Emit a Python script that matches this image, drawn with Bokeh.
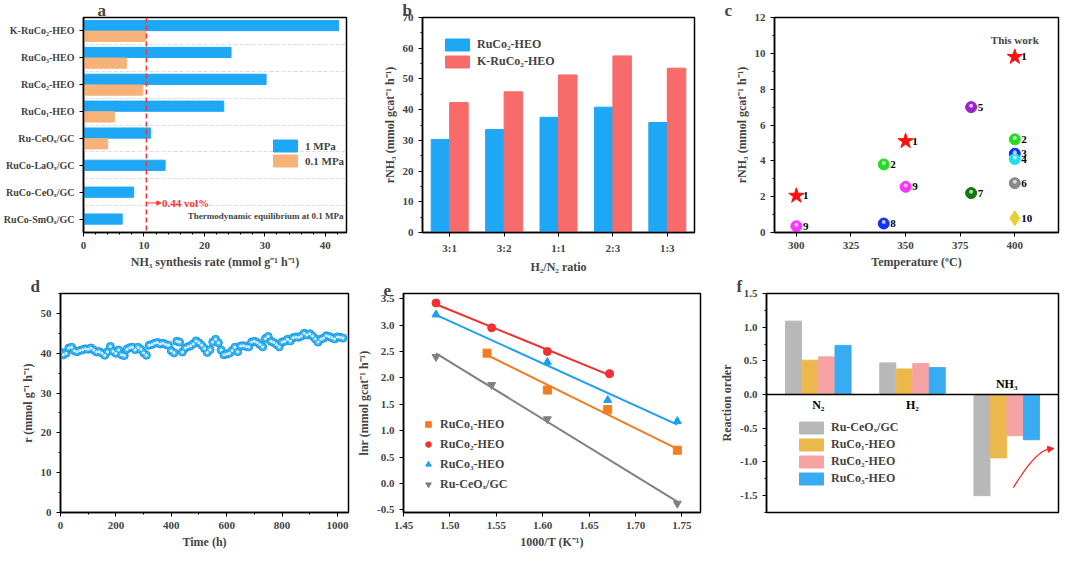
import numpy as np
from bokeh.plotting import figure
from bokeh.layouts import column, row
from bokeh.models import Label, Span, Range1d, FixedTicker, Legend, LegendItem, ColumnDataSource, Arrow, NormalHead
from bokeh.transform import dodge
from bokeh.embed import file_html
from bokeh.resources import INLINE

FONT = "Liberation Serif"

# ---- data a
a_cats = ["RuCo-SmOₓ/GC", "RuCo-CeOₓ/GC", "RuCo-LaOₓ/GC", "Ru-CeOₓ/GC", "RuCo₁-HEO", "RuCo₂-HEO", "RuCo₃-HEO", "K-RuCo₂-HEO"]
a_1mpa = [6.4, 8.3, 13.5, 11.1, 23.2, 30.2, 24.4, 42.2]
a_01mpa = [None, None, None, 4.0, 5.1, 9.8, 7.1, 10.3]
a_equil = 10.4
# ---- data b
b_cats = ["3:1", "3:2", "1:1", "2:3", "1:3"]
b_ruco2 = [30.3, 33.5, 37.5, 40.8, 35.8]
b_kruco2 = [42.3, 45.8, 51.3, 57.5, 53.5]
# ---- data c
c_star_t = [300, 350, 400]
c_star_r = [2.05, 5.1, 9.8]
c_pt_t = [300, 340, 340, 350, 380, 380, 400, 400, 400, 400]
c_pt_r = [0.35, 3.8, 0.5, 2.55, 7.0, 2.2, 5.2, 4.4, 4.1, 2.75]
c_pt_lab = ["9", "2", "8", "9", "5", "7", "2", "3", "4", "6"]
c_pt_col = ["#ff33ff", "#22dd22", "#1133ee", "#ff33ff", "#9922cc", "#117711", "#22dd22", "#1133ee", "#22ddee", "#888888"]
c_dia_t = [400]
c_dia_r = [0.8]
# ---- data d
d_rate = [40.3, 39.6, 40.0, 41.3, 41.5, 40.6, 40.4, 40.7, 40.9, 41.1,
          41.0, 41.3, 40.8, 40.3, 40.4, 40.0, 39.5, 40.4, 41.7, 40.5,
          40.0, 40.8, 39.6, 39.4, 41.0, 41.4, 41.5, 40.9, 41.5, 41.0,
          40.1, 39.5, 42.0, 42.2, 42.5, 42.7, 42.3, 42.5, 42.2, 42.0,
          40.6, 40.1, 43.0, 42.8, 40.3, 41.3, 41.6, 41.9, 42.4, 43.1,
          42.6, 42.0, 41.2, 40.2, 40.9, 42.8, 43.5, 42.6, 40.8, 39.6,
          39.8, 40.0, 40.7, 41.5, 40.4, 41.8, 41.9, 41.7, 41.6, 42.8,
          43.0, 42.7, 42.2, 41.6, 43.7, 44.2, 43.0, 42.7, 42.2, 41.6,
          42.8, 43.0, 43.5, 43.1, 43.9, 44.1, 44.0, 44.3, 45.0, 44.6,
          44.9, 44.3, 43.6, 42.8, 43.5, 43.8, 44.4, 44.2, 43.9, 43.6,
          44.1, 44.0, 43.8]
d_time = list(range(0, 10 * len(d_rate), 10))
# ---- data e
e_series = ["RuCo₁-HEO", "RuCo₂-HEO", "RuCo₃-HEO", "Ru-CeOₓ/GC"]
e_x1 = [1.54, 1.605, 1.67, 1.745]
e_y1 = [2.47, 1.77, 1.40, 0.63]
e_x2 = [1.485, 1.545, 1.605, 1.672]
e_y2 = [3.42, 2.95, 2.50, 2.08]
e_x3 = [1.485, 1.605, 1.67, 1.745]
e_y3 = [3.20, 2.30, 1.58, 1.18]
e_x4 = [1.485, 1.545, 1.605, 1.745]
e_y4 = [2.40, 1.87, 1.22, -0.38]
# ---- data f
f_groups = ["N₂", "H₂", "NH₃"]
f_series = ["Ru-CeOₓ/GC", "RuCo₁-HEO", "RuCo₂-HEO", "RuCo₃-HEO"]
f_vals = [[1.09, 0.47, -1.50], [0.51, 0.38, -0.94], [0.56, 0.46, -0.61], [0.73, 0.40, -0.67]]

BLUE = "#1ea7f5"
ORANGE = "#f7b27a"


def style(p, xlabel, ylabel):
    p.background_fill_color = "white"
    p.outline_line_color = "black"
    p.outline_line_width = 1.5
    p.xgrid.visible = False
    p.ygrid.visible = False
    for ax in (p.xaxis, p.yaxis):
        ax.axis_line_width = 1.5
        ax.major_label_text_font = FONT
        ax.major_label_text_font_style = "bold"
        ax.major_label_text_font_size = "11px"
        ax.axis_label_text_font = FONT
        ax.axis_label_text_font_style = "bold"
        ax.axis_label_text_font_size = "12px"
        ax.major_tick_in = 0
        ax.major_tick_out = 4
        ax.minor_tick_out = 2
        ax.minor_tick_in = 0
        ax.axis_label_standoff = 3
    p.xaxis.axis_label = xlabel
    p.yaxis.axis_label = ylabel


def letter(p, t, off):
    p.title.text = t
    p.title.text_font = FONT
    p.title.text_font_style = "bold"
    p.title.text_font_size = "17px"
    p.title.align = "left"
    p.title.offset = off
    p.title.standoff = -4


def mk(w, h, l, r, t, b, **kw):
    return figure(width=w, height=h, min_border_left=l, min_border_right=r, min_border_top=t,
                  min_border_bottom=b, output_backend="svg", toolbar_location=None, **kw)

# ---------- a
pa = mk(354, 276, 72, 8, 0, 44, x_range=Range1d(0, 43.5), y_range=Range1d(-0.5, 7.5))
style(pa, "NH₃ synthesis rate (mmol g⁻¹ h⁻¹)", "")
idx = list(range(len(a_cats)))
yb = [i + 0.2 if a_01mpa[i] is not None else i for i in idx]
ro = pa.hbar(y=yb, right=a_1mpa, height=0.38, color=BLUE)
oi = [i for i in idx if a_01mpa[i] is not None]
rb = pa.hbar(y=[i - 0.2 for i in oi], right=[a_01mpa[i] for i in oi], height=0.38, color=ORANGE)
pa.yaxis.ticker = FixedTicker(ticks=idx)
pa.yaxis.major_label_overrides = {i: c for i, c in enumerate(a_cats)}
pa.yaxis.major_label_text_font_size = "10px"
pa.ygrid.visible = True
pa.ygrid.ticker = FixedTicker(ticks=[i + 0.5 for i in idx])
pa.ygrid.grid_line_color = "#dddddd"
pa.ygrid.grid_line_dash = "4 2"
pa.add_layout(Span(location=a_equil, dimension="height", line_color="#ff3030", line_dash="5 3", line_width=1.5))
pa.add_layout(Arrow(end=NormalHead(size=4, fill_color="#ff3030", line_color="#ff3030"), x_start=a_equil, y_start=0.6,
                    x_end=a_equil + 2.4, y_end=0.6, line_color="#ff3030", line_width=1))
pa.add_layout(Label(x=a_equil + 2.6, y=0.6, text="0.44 vol%", text_color="#ff3030", text_font=FONT,
                    text_font_style="bold", text_font_size="11px", text_baseline="middle"))
pa.add_layout(Label(x=43, y=0.1, text="Thermodynamic equilibrium at 0.1 MPa", text_align="right", text_font=FONT,
                    text_font_style="bold", text_font_size="9px", text_baseline="middle"))
lg = Legend(items=[LegendItem(label="1 MPa", renderers=[ro]), LegendItem(label="0.1 MPa", renderers=[rb])],
            location=(185, 62), border_line_alpha=0, background_fill_alpha=0, label_text_font=FONT,
            label_text_font_style="bold", label_text_font_size="11px", glyph_width=30, glyph_height=15, spacing=0, padding=2)
pa.add_layout(lg)
letter(pa, "a", 14)

# ---------- b
pb = mk(354, 276, 68, 14, 0, 44, x_range=b_cats, y_range=Range1d(0, 70))
style(pb, "H₂/N₂ ratio", "rNH₃ (mmol gcat⁻¹ h⁻¹)")
src_b = ColumnDataSource(dict(c=b_cats, a=b_ruco2, k=b_kruco2))
r1 = pb.vbar(x=dodge("c", -0.17, range=pb.x_range), top="a", width=0.34, source=src_b, color=BLUE)
r2 = pb.vbar(x=dodge("c", 0.17, range=pb.x_range), top="k", width=0.34, source=src_b, color="#f76b6b")
pb.yaxis.ticker = FixedTicker(ticks=list(range(0, 71, 10)), minor_ticks=list(range(0, 71, 5)))
lgb = Legend(items=[LegendItem(label="RuCo₂-HEO", renderers=[r1]), LegendItem(label="K-RuCo₂-HEO", renderers=[r2])],
             location="top_left", border_line_alpha=0, background_fill_alpha=0, label_text_font=FONT,
             label_text_font_style="bold", label_text_font_size="12px", glyph_width=30, glyph_height=15, spacing=2)
pb.add_layout(lgb)
letter(pb, "b", -20)

# ---------- c
pc = mk(354, 276, 66, 4, 0, 44, x_range=Range1d(290, 420), y_range=Range1d(0, 12))
style(pc, "Temperature (ºC)", "rNH₃ (mmol gcat⁻¹ h⁻¹)")
pc.xaxis.ticker = FixedTicker(ticks=[300, 325, 350, 375, 400])
pc.yaxis.ticker = FixedTicker(ticks=list(range(0, 13, 2)), minor_ticks=list(range(0, 13, 1)))
pc.scatter(c_star_t, c_star_r, marker="star", size=16, color="#ff1010")
pc.text([t + 3 for t in c_star_t], c_star_r, text=["1"] * 3, text_font={"value": FONT}, text_font_style="bold",
        text_font_size="11px", text_baseline="middle")
pc.scatter(c_pt_t, c_pt_r, size=11, fill_color=c_pt_col, line_color=c_pt_col)
pc.scatter(c_pt_t, [r + 0.08 for r in c_pt_r], size=4, fill_color="white", line_alpha=0, fill_alpha=0.7)
pc.text([t + 3 for t in c_pt_t], c_pt_r, text=c_pt_lab, text_font={"value": FONT}, text_font_style="bold",
        text_font_size="11px", text_baseline="middle")
pc.scatter(c_dia_t, c_dia_r, marker="diamond", size=15, color="#e8d030")
pc.text([t + 3 for t in c_dia_t], c_dia_r, text=["10"], text_font={"value": FONT}, text_font_style="bold",
        text_font_size="11px", text_baseline="middle")
pc.add_layout(Label(x=400, y=10.4, text="This work", text_align="center", text_font=FONT, text_font_style="bold",
                    text_font_size="11px"))
letter(pc, "c", -50)

# ---------- d
pd_ = mk(354, 276, 60, 6, 6, 40, x_range=Range1d(0, 1040), y_range=Range1d(0, 55))
style(pd_, "Time (h)", "r (mmol g⁻¹ h⁻¹)")
pd_.xaxis.ticker = FixedTicker(ticks=[0, 200, 400, 600, 800, 1000], minor_ticks=list(range(0, 1040, 100)))
pd_.yaxis.ticker = FixedTicker(ticks=[0, 10, 20, 30, 40, 50], minor_ticks=list(range(0, 56, 5)))
pd_.scatter(d_time, d_rate, size=8, fill_color="#3ab7f2", line_color="#1a98e6", line_width=1)
pd_.scatter(d_time, d_rate, size=3, fill_color="white", line_alpha=0, fill_alpha=0.8)
letter(pd_, "d", -30)

# ---------- e
pe = mk(354, 276, 41, 8, 6, 40, x_range=Range1d(1.45, 1.77), y_range=Range1d(-0.55, 3.6))
style(pe, "1000/T (K⁻¹)", "lnr (mmol gcat⁻¹ h⁻¹)")
pe.xaxis.ticker = FixedTicker(ticks=[1.45, 1.50, 1.55, 1.60, 1.65, 1.70, 1.75])
pe.xaxis.major_label_overrides = {1.45: "1.45", 1.5: "1.50", 1.55: "1.55", 1.6: "1.60", 1.65: "1.65", 1.7: "1.70", 1.75: "1.75"}
pe.yaxis.ticker = FixedTicker(ticks=[-0.5, 0, 0.5, 1, 1.5, 2, 2.5, 3, 3.5])
pe.yaxis.major_label_overrides = {-0.5: "-0.5", 0: "0.0", 0.5: "0.5", 1: "1.0", 1.5: "1.5", 2: "2.0", 2.5: "2.5", 3: "3.0", 3.5: "3.5"}
e_data = [(e_x1, e_y1, "#f47c20", "square"), (e_x2, e_y2, "#ee3030", "circle"),
          (e_x3, e_y3, "#1aa0f0", "triangle"), (e_x4, e_y4, "#808080", "inverted_triangle")]
items = []
for (xs, ys, col, mkr), name in zip(e_data, e_series):
    k, b = np.polyfit(xs, ys, 1)
    xx = [min(xs), max(xs)]
    pe.line(xx, [k * v + b for v in xx], line_color=col, line_width=2)
    r = pe.scatter(xs, ys, marker=mkr, size=8, color=col)
    items.append(LegendItem(label=name, renderers=[r]))
lge = Legend(items=items, location=(8, 8), border_line_alpha=0, background_fill_alpha=0, label_text_font=FONT,
             label_text_font_style="bold", label_text_font_size="12px", spacing=0, glyph_width=14)
pe.add_layout(lge)
letter(pe, "e", -20)

# ---------- f
pf = mk(354, 276, 58, 4, 8, 35, x_range=Range1d(-0.55, 2.55), y_range=Range1d(-1.75, 1.5))
style(pf, "", "Reaction order")
pf.xaxis.visible = False
pf.yaxis.ticker = FixedTicker(ticks=[-1.5, -1.0, -0.5, 0.0, 0.5, 1.0, 1.5], minor_ticks=list(np.arange(-1.75, 1.51, 0.25)))
pf.yaxis.major_label_overrides = {-1.5: "-1.5", -1.0: "-1.0", -0.5: "-0.5", 0.0: "0.0", 0.5: "0.5", 1.0: "1.0", 1.5: "1.5"}
f_cols = ["#b8b8b8", "#ebb84c", "#f7a3a3", "#38acf2"]
fitems = []
gx = np.arange(len(f_groups))
for j, (name, vals, col) in enumerate(zip(f_series, f_vals, f_cols)):
    r = pf.vbar(x=gx + (j - 1.5) * 0.175, top=vals, bottom=0, width=0.17, color=col)
    fitems.append(LegendItem(label=name, renderers=[r]))
pf.add_layout(Span(location=0, dimension="width", line_color="black", line_width=1.5))
pf.text([0, 1], [-0.05, -0.05], text=f_groups[:2], text_align="center", text_baseline="top", text_font={"value": FONT},
        text_font_style="bold", text_font_size="12px")
pf.text([2], [0.05], text=[f_groups[2]], text_align="center", text_baseline="bottom", text_font={"value": FONT},
        text_font_style="bold", text_font_size="12px")
tt = np.linspace(0, 1, 20)
pf.line(2.07 + 0.42 * tt, -1.38 + 0.58 * np.sin(tt * np.pi / 2), line_color="#ff2020", line_width=1.2)
pf.add_layout(Arrow(end=NormalHead(size=6, fill_color="#ff2020", line_color="#ff2020"), x_start=2.45, y_start=-0.81,
                    x_end=2.5, y_end=-0.8, line_color="#ff2020", line_width=1.2))
lgf = Legend(items=fitems, location=(20, 16), border_line_alpha=0, background_fill_alpha=0, label_text_font=FONT,
             label_text_font_style="bold", label_text_font_size="12px", glyph_width=30, glyph_height=15, spacing=2)
pf.add_layout(lgf)
letter(pf, "f", -30)

layout = column(row(pa, pb, pc), row(pd_, pe, pf))
open("out.html", "w").write(file_html(layout, INLINE))
